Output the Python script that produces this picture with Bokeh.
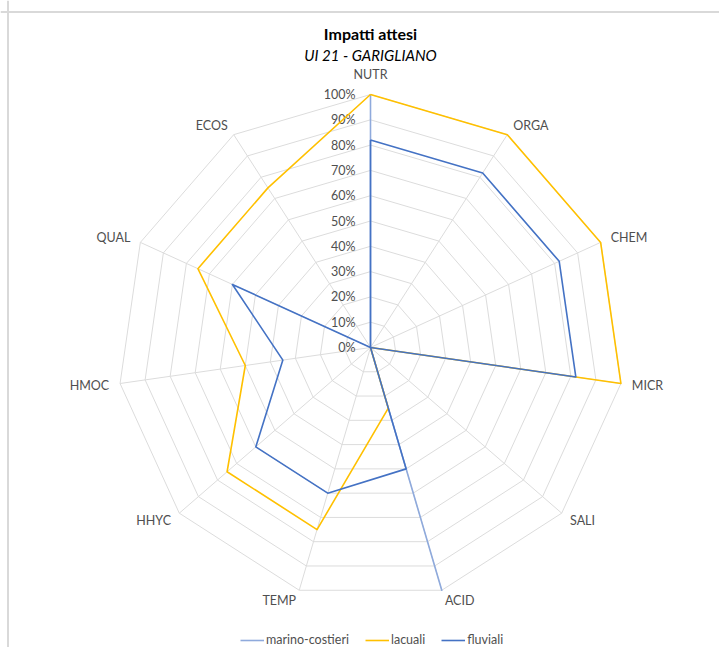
import math
from bokeh.plotting import figure
from bokeh.models import Range1d, Span, Legend, LegendItem, ColumnDataSource
from bokeh.core.properties import value
from bokeh.embed import file_html
from bokeh.resources import INLINE

# ---------------- data ----------------
categories = ["NUTR", "ORGA", "CHEM", "MICR", "SALI", "ACID", "TEMP", "HHYC", "HMOC", "QUAL", "ECOS"]
marino_costieri = [100, 0, 0, 0, 0, 100, 0, 0, 0, 0, 0]
lacuali = [100, 100, 100, 100, 0, 25, 75, 75, 50, 75, 75]
fluviali = [82, 82, 82, 82, 0, 50, 60, 60, 35, 60, 0]
tick_values = [0, 10, 20, 30, 40, 50, 60, 70, 80, 90, 100]
tick_labels = ["0%", "10%", "20%", "30%", "40%", "50%", "60%", "70%", "80%", "90%", "100%"]
series_names = ["marino-costieri", "lacuali", "fluviali"]

# ---------------- layout ----------------
W, H = 719, 647
CX, CY = 370, 347          # radar centre in canvas px
K = 2.53                   # px per percent unit
FONT = "Lato"
LABEL_COLOR = "#4f4f4f"
GRID_COLOR = "#dcdcdc"
COLORS = ["#8faadc", "#ffc000", "#4472c4"]


def dy_from_canvas(cy):
    return (CY - cy) / K


def dx_from_canvas(cx):
    return (cx - CX) / K


p = figure(width=W, height=H,
           x_range=Range1d(dx_from_canvas(0), dx_from_canvas(W)),
           y_range=Range1d(dy_from_canvas(H), dy_from_canvas(0)),
           output_backend="svg", toolbar_location=None,
           x_axis_location=None, y_axis_location=None,
           min_border=0, min_border_left=0, min_border_right=0,
           min_border_top=0, min_border_bottom=0)
p.grid.visible = False
p.outline_line_color = None
p.background_fill_color = "white"

n = len(categories)
angles = [2 * math.pi * i / n for i in range(n)]


def polar(vals):
    xs = [v * math.sin(a) for v, a in zip(vals, angles)]
    ys = [v * math.cos(a) for v, a in zip(vals, angles)]
    return xs + xs[:1], ys + ys[:1]


# chart border (top and left visible)
p.add_layout(Span(location=dx_from_canvas(7.5), dimension="height",
                  line_color="#d9d9d9", line_width=2))
p.add_layout(Span(location=dy_from_canvas(11.5), dimension="width",
                  line_color="#d9d9d9", line_width=2))

# grid polygons
for t in tick_values[1:]:
    gx, gy = polar([t] * n)
    p.line(gx, gy, line_color=GRID_COLOR, line_width=1)

# spokes
top = max(tick_values)
p.segment(x0=[0] * n, y0=[0] * n,
          x1=[top * math.sin(a) for a in angles],
          y1=[top * math.cos(a) for a in angles],
          line_color=GRID_COLOR, line_width=1)

# tick labels
p.text(x=[dx_from_canvas(355)] * len(tick_values), y=tick_values, text=tick_labels,
       text_align="right", text_baseline="middle",
       text_font=value(FONT), text_font_size="12.5px", text_color=LABEL_COLOR)

# category labels
lx, ly, lalign = [], [], []
for a in angles:
    s, c = math.sin(a), math.cos(a)
    if s > 0.1:
        al = "left"
        r = top + 11 / K
    elif s < -0.1:
        al = "right"
        r = top + 11 / K
    else:
        al = "center"
        r = top + 20 / K
    lx.append(r * s)
    ly.append(r * c)
    lalign.append(al)
src = ColumnDataSource(dict(x=lx, y=ly, text=categories, align=lalign))
p.text(x="x", y="y", text="text", text_align="align", text_baseline="middle",
       source=src, text_font=value(FONT), text_font_size="12.5px", text_color=LABEL_COLOR)

# series
renderers = []
for vals, col in zip([marino_costieri, lacuali, fluviali], COLORS):
    xs, ys = polar(vals)
    r = p.line(xs, ys, line_color=col, line_width=1.6, line_join="round")
    renderers.append(r)

# title / subtitle
p.text(x=[0], y=[dy_from_canvas(33)], text=["Impatti attesi"],
       text_align="center", text_baseline="middle", text_font=value(FONT),
       text_font_size="16px", text_font_style="bold", text_color="#000000")
p.text(x=[0], y=[dy_from_canvas(54)], text=["UI 21 - GARIGLIANO"],
       text_align="center", text_baseline="middle", text_font=value(FONT),
       text_font_size="15px", text_font_style="italic", text_color="#000000")

legend = Legend(items=[LegendItem(label=nm, renderers=[r]) for nm, r in zip(series_names, renderers)],
                orientation="horizontal", location=(240, 0),
                label_text_font=FONT, label_text_font_size="12.5px",
                label_text_color=LABEL_COLOR, glyph_width=24, glyph_height=14,
                label_standoff=2, spacing=16, padding=0, margin=0,
                border_line_color=None, background_fill_alpha=0)
p.add_layout(legend)

open("out.html", "w").write(file_html(p, INLINE))
